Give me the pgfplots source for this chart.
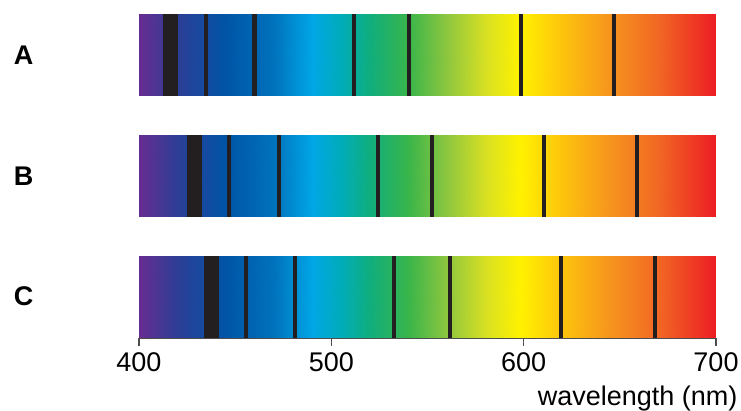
\documentclass[border=0pt]{standalone}
\usepackage{fontspec}
\setmainfont{Liberation Sans}
\usepackage{pgfplots}
\pgfplotsset{compat=1.18}
\definecolor{lineblack}{HTML}{231F20}
\definecolor{axisgray}{HTML}{4D4D4D}
\newcommand{\bigfont}{\fontsize{27bp}{32bp}\selectfont}

\begin{document}
\begin{tikzpicture}
\begin{axis}[
  name=ax,
  scale only axis,
  width=577bp, height=324bp,
  xmin=400, xmax=700, ymin=0, ymax=324,
  axis x line*=bottom, axis y line=none,
  x axis line style={draw=axisgray, line width=1.5bp, -},
  xtick={400,500,600,700},
  tick align=outside,
  major tick length=8bp,
  xtick style={draw=axisgray, line width=1.5bp},
  tick label style={font=\bigfont},
  xticklabel style={yshift=-3bp},
  /pgf/number format/assume math mode=true,
  clip=false,
  colormap={spectrum}{
    rgb255(0pt)=(102,45,145)
    rgb255(20pt)=(45,62,150)
    rgb255(45pt)=(0,84,166)
    rgb255(70pt)=(0,114,188)
    rgb255(90pt)=(0,166,230)
    rgb255(105pt)=(0,172,185)
    rgb255(120pt)=(16,174,125)
    rgb255(140pt)=(57,181,74)
    rgb255(160pt)=(141,198,63)
    rgb255(180pt)=(215,224,35)
    rgb255(198pt)=(255,242,0)
    rgb255(220pt)=(253,196,12)
    rgb255(245pt)=(246,148,30)
    rgb255(270pt)=(241,103,36)
    rgb255(300pt)=(237,28,36)
  },
  point meta min=400, point meta max=700,
  spectrum/.style={surf, shader=interp, point meta=x, mesh/cols=2},
  thinline/.style={draw=lineblack, line width=4.2bp, unbounded coords=jump},
  band/.style={draw=lineblack, line width=15bp},
]
% A
\addplot[spectrum] coordinates {(400,242) (700,242) (400,324) (700,324)};
\addplot[band] coordinates {(416.4,242) (416.4,324)};
\addplot[thinline] coordinates {
  (435,242) (435,324) (nan,nan)
  (460,242) (460,324) (nan,nan)
  (511.6,242) (511.6,324) (nan,nan)
  (540.4,242) (540.4,324) (nan,nan)
  (598.6,242) (598.6,324) (nan,nan)
  (647,242) (647,324)
};
% B
\addplot[spectrum] coordinates {(400,121) (700,121) (400,203) (700,203)};
\addplot[band] coordinates {(428.9,121) (428.9,203)};
\addplot[thinline] coordinates {
  (446.8,121) (446.8,203) (nan,nan)
  (472.8,121) (472.8,203) (nan,nan)
  (524.3,121) (524.3,203) (nan,nan)
  (552.4,121) (552.4,203) (nan,nan)
  (610.6,121) (610.6,203) (nan,nan)
  (658.8,121) (658.8,203)
};
% C
\addplot[spectrum] coordinates {(400,0) (700,0) (400,82) (700,82)};
\addplot[band] coordinates {(437.7,0) (437.7,82)};
\addplot[thinline] coordinates {
  (455.8,0) (455.8,82) (nan,nan)
  (481.3,0) (481.3,82) (nan,nan)
  (532.6,0) (532.6,82) (nan,nan)
  (561.7,0) (561.7,82) (nan,nan)
  (619.6,0) (619.6,82) (nan,nan)
  (668.2,0) (668.2,82)
};
\node[font=\bigfont\bfseries] at (axis cs:340,283) {A};
\node[font=\bigfont\bfseries] at (axis cs:340,162) {B};
\node[font=\bigfont\bfseries] at (axis cs:340,41.5) {C};
\node[font=\bigfont, anchor=base east] at (rel axis cs:1,0) [xshift=25bp, yshift=-67bp] {wavelength (nm)};
\coordinate (o) at (rel axis cs:0,0);
\end{axis}
\pgfresetboundingbox
\path (o) ++(-139bp,-73bp) rectangle ++(741bp,411bp);
\end{tikzpicture}
\end{document}
